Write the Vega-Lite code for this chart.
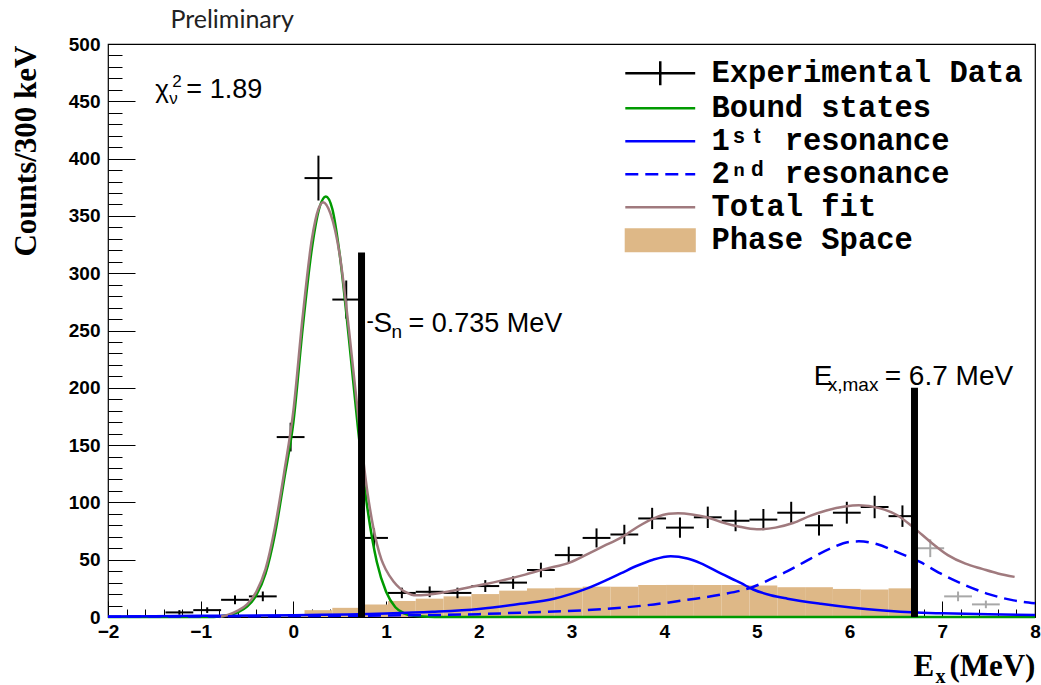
{
  "$schema": "https://vega.github.io/schema/vega-lite/v6.json",
  "width": 927,
  "height": 573,
  "autosize": {"type": "none"},
  "padding": {"left": 108, "top": 44, "right": 6, "bottom": 68},
  "background": "white",
  "config": {"view": {"stroke": "black", "strokeWidth": 1.2}, "font": "Liberation Sans"},
  "resolve": {"axis": {"x": "independent", "y": "independent"}},
  "datasets": {
    "pts": [
      {"s": "Experimental Data", "x": -1.23, "xl": -1.38, "xh": -1.08, "y": 4, "lo": 2, "hi": 6},
      {"s": "Experimental Data", "x": -0.93, "xl": -1.08, "xh": -0.78, "y": 6, "lo": 3.55, "hi": 8.45},
      {"s": "Experimental Data", "x": -0.63, "xl": -0.78, "xh": -0.48, "y": 15, "lo": 11.13, "hi": 18.87},
      {"s": "Experimental Data", "x": -0.33, "xl": -0.48, "xh": -0.18, "y": 18, "lo": 13.76, "hi": 22.24},
      {"s": "Experimental Data", "x": -0.03, "xl": -0.18, "xh": 0.12, "y": 157, "lo": 144.47, "hi": 169.53},
      {"s": "Experimental Data", "x": 0.27, "xl": 0.12, "xh": 0.42, "y": 383, "lo": 363.43, "hi": 402.57},
      {"s": "Experimental Data", "x": 0.57, "xl": 0.42, "xh": 0.72, "y": 277, "lo": 260.36, "hi": 293.64},
      {"s": "Experimental Data", "x": 0.87, "xl": 0.72, "xh": 1.02, "y": 69, "lo": 60.69, "hi": 77.31},
      {"s": "Experimental Data", "x": 1.17, "xl": 1.02, "xh": 1.32, "y": 21, "lo": 16.42, "hi": 25.58},
      {"s": "Experimental Data", "x": 1.47, "xl": 1.32, "xh": 1.62, "y": 22, "lo": 17.31, "hi": 26.69},
      {"s": "Experimental Data", "x": 1.77, "xl": 1.62, "xh": 1.92, "y": 21, "lo": 16.42, "hi": 25.58},
      {"s": "Experimental Data", "x": 2.07, "xl": 1.92, "xh": 2.22, "y": 27, "lo": 21.8, "hi": 32.2},
      {"s": "Experimental Data", "x": 2.37, "xl": 2.22, "xh": 2.52, "y": 30, "lo": 24.52, "hi": 35.48},
      {"s": "Experimental Data", "x": 2.67, "xl": 2.52, "xh": 2.82, "y": 41, "lo": 34.6, "hi": 47.4},
      {"s": "Experimental Data", "x": 2.97, "xl": 2.82, "xh": 3.12, "y": 54, "lo": 46.65, "hi": 61.35},
      {"s": "Experimental Data", "x": 3.27, "xl": 3.12, "xh": 3.42, "y": 69, "lo": 60.69, "hi": 77.31},
      {"s": "Experimental Data", "x": 3.57, "xl": 3.42, "xh": 3.72, "y": 72, "lo": 63.51, "hi": 80.49},
      {"s": "Experimental Data", "x": 3.87, "xl": 3.72, "xh": 4.02, "y": 86, "lo": 76.73, "hi": 95.27},
      {"s": "Experimental Data", "x": 4.17, "xl": 4.02, "xh": 4.32, "y": 78, "lo": 69.17, "hi": 86.83},
      {"s": "Experimental Data", "x": 4.47, "xl": 4.32, "xh": 4.62, "y": 87, "lo": 77.67, "hi": 96.33},
      {"s": "Experimental Data", "x": 4.77, "xl": 4.62, "xh": 4.92, "y": 84, "lo": 74.83, "hi": 93.17},
      {"s": "Experimental Data", "x": 5.07, "xl": 4.92, "xh": 5.22, "y": 85, "lo": 75.78, "hi": 94.22},
      {"s": "Experimental Data", "x": 5.37, "xl": 5.22, "xh": 5.52, "y": 91, "lo": 81.46, "hi": 100.54},
      {"s": "Experimental Data", "x": 5.67, "xl": 5.52, "xh": 5.82, "y": 80, "lo": 71.06, "hi": 88.94},
      {"s": "Experimental Data", "x": 5.97, "xl": 5.82, "xh": 6.12, "y": 91, "lo": 81.46, "hi": 100.54},
      {"s": "Experimental Data", "x": 6.27, "xl": 6.12, "xh": 6.42, "y": 96, "lo": 86.2, "hi": 105.8},
      {"s": "Experimental Data", "x": 6.57, "xl": 6.42, "xh": 6.72, "y": 88, "lo": 78.62, "hi": 97.38}
    ],
    "grey": [
      {"x": 6.87, "xl": 6.72, "xh": 7.02, "y": 60, "lo": 52.25, "hi": 67.75},
      {"x": 7.17, "xl": 7.02, "xh": 7.32, "y": 18, "lo": 13.76, "hi": 22.24},
      {"x": 7.47, "xl": 7.32, "xh": 7.62, "y": 11, "lo": 7.68, "hi": 14.32}
    ],
    "phase": [
      {"s": "Phase Space", "xl": 0.12, "xh": 0.42, "ps": 6},
      {"s": "Phase Space", "xl": 0.42, "xh": 0.72, "ps": 8},
      {"s": "Phase Space", "xl": 0.72, "xh": 1.02, "ps": 11},
      {"s": "Phase Space", "xl": 1.02, "xh": 1.32, "ps": 14},
      {"s": "Phase Space", "xl": 1.32, "xh": 1.62, "ps": 16},
      {"s": "Phase Space", "xl": 1.62, "xh": 1.92, "ps": 18},
      {"s": "Phase Space", "xl": 1.92, "xh": 2.22, "ps": 20},
      {"s": "Phase Space", "xl": 2.22, "xh": 2.52, "ps": 23},
      {"s": "Phase Space", "xl": 2.52, "xh": 2.82, "ps": 25},
      {"s": "Phase Space", "xl": 2.82, "xh": 3.12, "ps": 25.5},
      {"s": "Phase Space", "xl": 3.12, "xh": 3.42, "ps": 26.5},
      {"s": "Phase Space", "xl": 3.42, "xh": 3.72, "ps": 26.5},
      {"s": "Phase Space", "xl": 3.72, "xh": 4.02, "ps": 28},
      {"s": "Phase Space", "xl": 4.02, "xh": 4.32, "ps": 28},
      {"s": "Phase Space", "xl": 4.32, "xh": 4.62, "ps": 28},
      {"s": "Phase Space", "xl": 4.62, "xh": 4.92, "ps": 28},
      {"s": "Phase Space", "xl": 4.92, "xh": 5.22, "ps": 27.5},
      {"s": "Phase Space", "xl": 5.22, "xh": 5.52, "ps": 26},
      {"s": "Phase Space", "xl": 5.52, "xh": 5.82, "ps": 26},
      {"s": "Phase Space", "xl": 5.82, "xh": 6.12, "ps": 24.5},
      {"s": "Phase Space", "xl": 6.12, "xh": 6.42, "ps": 24},
      {"s": "Phase Space", "xl": 6.42, "xh": 6.72, "ps": 25}
    ],
    "curves": [
      {"s": "Bound states", "x": -2, "y": 0},
      {"s": "Bound states", "x": -0.9, "y": 0},
      {"s": "Bound states", "x": -0.8, "y": 0.5},
      {"s": "Bound states", "x": -0.7, "y": 1.5},
      {"s": "Bound states", "x": -0.6, "y": 4},
      {"s": "Bound states", "x": -0.5, "y": 9},
      {"s": "Bound states", "x": -0.4, "y": 19},
      {"s": "Bound states", "x": -0.3, "y": 38},
      {"s": "Bound states", "x": -0.2, "y": 72},
      {"s": "Bound states", "x": -0.1, "y": 120},
      {"s": "Bound states", "x": 0, "y": 170},
      {"s": "Bound states", "x": 0.1, "y": 252},
      {"s": "Bound states", "x": 0.2, "y": 322},
      {"s": "Bound states", "x": 0.28, "y": 357},
      {"s": "Bound states", "x": 0.35, "y": 367},
      {"s": "Bound states", "x": 0.42, "y": 356},
      {"s": "Bound states", "x": 0.5, "y": 316},
      {"s": "Bound states", "x": 0.6, "y": 242},
      {"s": "Bound states", "x": 0.7, "y": 162},
      {"s": "Bound states", "x": 0.8, "y": 94},
      {"s": "Bound states", "x": 0.9, "y": 48},
      {"s": "Bound states", "x": 1.0, "y": 22},
      {"s": "Bound states", "x": 1.1, "y": 8.5},
      {"s": "Bound states", "x": 1.2, "y": 3},
      {"s": "Bound states", "x": 1.3, "y": 1},
      {"s": "Bound states", "x": 1.45, "y": 0.2},
      {"s": "Bound states", "x": 1.6, "y": 0},
      {"s": "Bound states", "x": 8, "y": 0},
      {"s": "1ˢᵗ resonance", "x": -2, "y": 0.5},
      {"s": "1ˢᵗ resonance", "x": -1, "y": 1},
      {"s": "1ˢᵗ resonance", "x": 0, "y": 1.5},
      {"s": "1ˢᵗ resonance", "x": 1, "y": 3},
      {"s": "1ˢᵗ resonance", "x": 1.5, "y": 4.5},
      {"s": "1ˢᵗ resonance", "x": 2, "y": 7},
      {"s": "1ˢᵗ resonance", "x": 2.45, "y": 11.5},
      {"s": "1ˢᵗ resonance", "x": 2.81, "y": 16},
      {"s": "1ˢᵗ resonance", "x": 3.17, "y": 25},
      {"s": "1ˢᵗ resonance", "x": 3.53, "y": 38},
      {"s": "1ˢᵗ resonance", "x": 3.7, "y": 44.5},
      {"s": "1ˢᵗ resonance", "x": 3.88, "y": 50},
      {"s": "1ˢᵗ resonance", "x": 4.07, "y": 53},
      {"s": "1ˢᵗ resonance", "x": 4.25, "y": 51},
      {"s": "1ˢᵗ resonance", "x": 4.39, "y": 47},
      {"s": "1ˢᵗ resonance", "x": 4.61, "y": 38},
      {"s": "1ˢᵗ resonance", "x": 4.83, "y": 29.5},
      {"s": "1ˢᵗ resonance", "x": 4.96, "y": 24},
      {"s": "1ˢᵗ resonance", "x": 5.15, "y": 19},
      {"s": "1ˢᵗ resonance", "x": 5.33, "y": 16},
      {"s": "1ˢᵗ resonance", "x": 5.69, "y": 11.5},
      {"s": "1ˢᵗ resonance", "x": 6.04, "y": 8},
      {"s": "1ˢᵗ resonance", "x": 6.4, "y": 5.5},
      {"s": "1ˢᵗ resonance", "x": 6.67, "y": 4.1},
      {"s": "1ˢᵗ resonance", "x": 7, "y": 3.2},
      {"s": "1ˢᵗ resonance", "x": 7.5, "y": 2.3},
      {"s": "1ˢᵗ resonance", "x": 8, "y": 1.8},
      {"s": "Total fit", "x": -0.8, "y": 0},
      {"s": "Total fit", "x": -0.7, "y": 2},
      {"s": "Total fit", "x": -0.6, "y": 5.5},
      {"s": "Total fit", "x": -0.5, "y": 11},
      {"s": "Total fit", "x": -0.4, "y": 22},
      {"s": "Total fit", "x": -0.3, "y": 42},
      {"s": "Total fit", "x": -0.2, "y": 78},
      {"s": "Total fit", "x": -0.1, "y": 126},
      {"s": "Total fit", "x": 0, "y": 180},
      {"s": "Total fit", "x": 0.1, "y": 262},
      {"s": "Total fit", "x": 0.2, "y": 330},
      {"s": "Total fit", "x": 0.27, "y": 356},
      {"s": "Total fit", "x": 0.32, "y": 362},
      {"s": "Total fit", "x": 0.4, "y": 352},
      {"s": "Total fit", "x": 0.5, "y": 316},
      {"s": "Total fit", "x": 0.6, "y": 250},
      {"s": "Total fit", "x": 0.7, "y": 175},
      {"s": "Total fit", "x": 0.8, "y": 108},
      {"s": "Total fit", "x": 0.9, "y": 64},
      {"s": "Total fit", "x": 0.95, "y": 50},
      {"s": "Total fit", "x": 1.0, "y": 41},
      {"s": "Total fit", "x": 1.08, "y": 31},
      {"s": "Total fit", "x": 1.15, "y": 25},
      {"s": "Total fit", "x": 1.23, "y": 21},
      {"s": "Total fit", "x": 1.3, "y": 19},
      {"s": "Total fit", "x": 1.45, "y": 19.5},
      {"s": "Total fit", "x": 1.66, "y": 22},
      {"s": "Total fit", "x": 1.9, "y": 26},
      {"s": "Total fit", "x": 2.09, "y": 29},
      {"s": "Total fit", "x": 2.23, "y": 31.5},
      {"s": "Total fit", "x": 2.5, "y": 37},
      {"s": "Total fit", "x": 2.72, "y": 42},
      {"s": "Total fit", "x": 2.98, "y": 47.5},
      {"s": "Total fit", "x": 3.2, "y": 56},
      {"s": "Total fit", "x": 3.35, "y": 62},
      {"s": "Total fit", "x": 3.53, "y": 69},
      {"s": "Total fit", "x": 3.72, "y": 79},
      {"s": "Total fit", "x": 3.9, "y": 86.5},
      {"s": "Total fit", "x": 4.05, "y": 90},
      {"s": "Total fit", "x": 4.15, "y": 90.5},
      {"s": "Total fit", "x": 4.3, "y": 89.5},
      {"s": "Total fit", "x": 4.46, "y": 87},
      {"s": "Total fit", "x": 4.65, "y": 82},
      {"s": "Total fit", "x": 4.8, "y": 79},
      {"s": "Total fit", "x": 5.0, "y": 76.5},
      {"s": "Total fit", "x": 5.2, "y": 78},
      {"s": "Total fit", "x": 5.39, "y": 82},
      {"s": "Total fit", "x": 5.58, "y": 88.5},
      {"s": "Total fit", "x": 5.75, "y": 93},
      {"s": "Total fit", "x": 5.95, "y": 96.5},
      {"s": "Total fit", "x": 6.1, "y": 97.5},
      {"s": "Total fit", "x": 6.32, "y": 95},
      {"s": "Total fit", "x": 6.51, "y": 89},
      {"s": "Total fit", "x": 6.69, "y": 78},
      {"s": "Total fit", "x": 6.88, "y": 65},
      {"s": "Total fit", "x": 7.06, "y": 54},
      {"s": "Total fit", "x": 7.25, "y": 46.5},
      {"s": "Total fit", "x": 7.43, "y": 42},
      {"s": "Total fit", "x": 7.6, "y": 38},
      {"s": "Total fit", "x": 7.78, "y": 35}
    ],
    "res2": [
      {"s": "2ⁿᵈ resonance", "x": -2, "y": 0.3},
      {"s": "2ⁿᵈ resonance", "x": 0, "y": 0.8},
      {"s": "2ⁿᵈ resonance", "x": 1, "y": 1.3},
      {"s": "2ⁿᵈ resonance", "x": 2, "y": 2.5},
      {"s": "2ⁿᵈ resonance", "x": 2.45, "y": 3.8},
      {"s": "2ⁿᵈ resonance", "x": 3.17, "y": 6},
      {"s": "2ⁿᵈ resonance", "x": 3.89, "y": 11},
      {"s": "2ⁿᵈ resonance", "x": 4.25, "y": 15},
      {"s": "2ⁿᵈ resonance", "x": 4.61, "y": 19.5},
      {"s": "2ⁿᵈ resonance", "x": 4.95, "y": 26},
      {"s": "2ⁿᵈ resonance", "x": 5.2, "y": 35},
      {"s": "2ⁿᵈ resonance", "x": 5.33, "y": 40},
      {"s": "2ⁿᵈ resonance", "x": 5.58, "y": 51},
      {"s": "2ⁿᵈ resonance", "x": 5.8, "y": 60},
      {"s": "2ⁿᵈ resonance", "x": 6.0, "y": 65.5},
      {"s": "2ⁿᵈ resonance", "x": 6.1, "y": 66},
      {"s": "2ⁿᵈ resonance", "x": 6.3, "y": 63.5},
      {"s": "2ⁿᵈ resonance", "x": 6.5, "y": 57},
      {"s": "2ⁿᵈ resonance", "x": 6.76, "y": 48},
      {"s": "2ⁿᵈ resonance", "x": 6.98, "y": 38},
      {"s": "2ⁿᵈ resonance", "x": 7.27, "y": 27},
      {"s": "2ⁿᵈ resonance", "x": 7.5, "y": 20},
      {"s": "2ⁿᵈ resonance", "x": 7.77, "y": 14.5},
      {"s": "2ⁿᵈ resonance", "x": 8, "y": 12}
    ],
    "marks": [
      {"x": 0.735, "top": 318},
      {"x": 6.7, "top": 200}
    ]
  },
  "layer": [
    {
      "data": {"name": "phase"},
      "mark": {"type": "rect", "opacity": 1},
      "encoding": {
        "x": {
          "field": "xl", "type": "quantitative",
          "scale": {"domain": [-2, 8], "nice": false, "zero": false},
          "axis": {
            "orient": "bottom",
            "values": [-2, -1, 0, 1, 2, 3, 4, 5, 6, 7, 8],
            "labelExpr": "datum.value < 0 ? '−' + abs(datum.value) : '' + datum.value",
            "tickSize": -16, "tickColor": "black", "tickWidth": 1,
            "domain": false, "grid": false,
            "labelFont": "Liberation Sans", "labelFontWeight": "bold", "labelFontSize": 19, "labelColor": "black",
            "labelPadding": 21, "labelOverlap": false, "labelFlush": false, "labelBound": false,
            "title": null
          }
        },
        "x2": {"field": "xh"},
        "y": {
          "field": "ps", "type": "quantitative",
          "scale": {"domain": [0, 500], "nice": false, "zero": false},
          "axis": {
            "orient": "left",
            "values": [0, 50, 100, 150, 200, 250, 300, 350, 400, 450, 500],
            "tickSize": -27, "tickColor": "black", "tickWidth": 1,
            "domain": false, "grid": false,
            "labelFont": "Liberation Sans", "labelFontWeight": "bold", "labelFontSize": 19, "labelColor": "black",
            "labelPadding": 35, "labelOverlap": false, "labelFlush": false, "labelBound": false,
            "title": "Counts/300 keV",
            "titleFont": "Liberation Serif", "titleFontWeight": "bold", "titleFontSize": 31, "titleColor": "black",
            "titleAngle": -90, "titleAlign": "right", "titleBaseline": "alphabetic",
            "titleX": -73, "titleY": 1
          }
        },
        "y2": {"datum": 0},
        "color": {
          "field": "s", "type": "nominal",
          "scale": {"domain": ["Experimental Data", "Bound states", "1ˢᵗ resonance", "2ⁿᵈ resonance", "Total fit", "Phase Space"], "range": ["#000000", "#009a00", "#0000ff", "#0000ff", "#a07a7e", "#deb887"]},
          "legend": {
            "orient": "none", "legendX": 537, "legendY": 14, "title": null, "direction": "vertical",
            "labelFont": "Liberation Mono", "labelFontWeight": "bold", "labelFontSize": 30.5, "labelColor": "black",
            "labelOffset": 36, "symbolSize": 900, "rowPadding": 2, "padding": 0, "labelLimit": 1000,
            "symbolType": {"expr": "datum.value === 'Experimental Data' ? 'M-2.33,0H2.33M0,-0.8V0.8' : (datum.value === 'Phase Space' ? 'M-2.37,-0.8H2.37V0.8H-2.37Z' : 'M-2.33,0H2.33')"},
            "symbolStrokeColor": {"expr": "scale('color', datum.value)"},
            "symbolStrokeWidth": {"expr": "datum.value === 'Phase Space' ? 0 : 2.5"},
            "symbolDash": {"expr": "datum.value === '2ⁿᵈ resonance' ? [13, 7] : [1, 0]"},
            "symbolOpacity": 1
          }
        }
      }
    },
    {
      "data": {"name": "pts"},
      "mark": {"type": "rule", "strokeWidth": 2},
      "encoding": {
        "x": {"field": "x", "type": "quantitative", "scale": {"domain": [-2, 8], "nice": false, "zero": false},
          "axis": {"orient": "bottom", "values": [-1.8, -1.6, -1.4, -1.2, -0.8, -0.6, -0.4, -0.2, 0.2, 0.4, 0.6, 0.8, 1.2, 1.4, 1.6, 1.8, 2.2, 2.4, 2.6, 2.8, 3.2, 3.4, 3.6, 3.8, 4.2, 4.4, 4.6, 4.8, 5.2, 5.4, 5.6, 5.8, 6.2, 6.4, 6.6, 6.8, 7.2, 7.4, 7.6, 7.8],
            "labels": false, "tickSize": -8, "tickColor": "black", "tickWidth": 1, "domain": false, "grid": false, "title": null}},
        "y": {"field": "lo", "type": "quantitative", "scale": {"domain": [0, 500], "nice": false, "zero": false},
          "axis": {"orient": "left", "values": [10, 20, 30, 40, 60, 70, 80, 90, 110, 120, 130, 140, 160, 170, 180, 190, 210, 220, 230, 240, 260, 270, 280, 290, 310, 320, 330, 340, 360, 370, 380, 390, 410, 420, 430, 440, 460, 470, 480, 490],
            "labels": false, "tickSize": -14, "tickColor": "black", "tickWidth": 1, "domain": false, "grid": false, "title": null}},
        "y2": {"field": "hi"},
        "color": {"field": "s", "type": "nominal", "scale": {"domain": ["Experimental Data", "Bound states", "1ˢᵗ resonance", "2ⁿᵈ resonance", "Total fit", "Phase Space"], "range": ["#000000", "#009a00", "#0000ff", "#0000ff", "#a07a7e", "#deb887"]}, "legend": null}
      }
    },
    {
      "data": {"name": "pts"},
      "mark": {"type": "rule", "strokeWidth": 2},
      "encoding": {
        "x": {"field": "xl", "type": "quantitative", "scale": {"domain": [-2, 8], "nice": false, "zero": false}, "axis": null},
        "x2": {"field": "xh"},
        "y": {"field": "y", "type": "quantitative", "scale": {"domain": [0, 500], "nice": false, "zero": false}, "axis": null},
        "color": {"field": "s", "type": "nominal", "scale": {"domain": ["Experimental Data", "Bound states", "1ˢᵗ resonance", "2ⁿᵈ resonance", "Total fit", "Phase Space"], "range": ["#000000", "#009a00", "#0000ff", "#0000ff", "#a07a7e", "#deb887"]}, "legend": null}
      }
    },
    {
      "data": {"name": "grey"},
      "mark": {"type": "rule", "strokeWidth": 2, "color": "#a8a8a8"},
      "encoding": {
        "x": {"field": "x", "type": "quantitative", "scale": {"domain": [-2, 8], "nice": false, "zero": false}, "axis": null},
        "y": {"field": "lo", "type": "quantitative", "scale": {"domain": [0, 500], "nice": false, "zero": false}, "axis": null},
        "y2": {"field": "hi"}
      }
    },
    {
      "data": {"name": "grey"},
      "mark": {"type": "rule", "strokeWidth": 2, "color": "#a8a8a8"},
      "encoding": {
        "x": {"field": "xl", "type": "quantitative", "scale": {"domain": [-2, 8], "nice": false, "zero": false}, "axis": null},
        "x2": {"field": "xh"},
        "y": {"field": "y", "type": "quantitative", "scale": {"domain": [0, 500], "nice": false, "zero": false}, "axis": null}
      }
    },
    {
      "data": {"name": "curves"},
      "mark": {"type": "line", "strokeWidth": 2.5, "interpolate": "monotone"},
      "encoding": {
        "x": {"field": "x", "type": "quantitative", "scale": {"domain": [-2, 8], "nice": false, "zero": false}, "axis": null},
        "y": {"field": "y", "type": "quantitative", "scale": {"domain": [0, 500], "nice": false, "zero": false}, "axis": null},
        "color": {"field": "s", "type": "nominal", "scale": {"domain": ["Experimental Data", "Bound states", "1ˢᵗ resonance", "2ⁿᵈ resonance", "Total fit", "Phase Space"], "range": ["#000000", "#009a00", "#0000ff", "#0000ff", "#a07a7e", "#deb887"]}, "legend": null}
      }
    },
    {
      "data": {"name": "res2"},
      "mark": {"type": "line", "strokeWidth": 2.5, "interpolate": "monotone", "strokeDash": [13, 7]},
      "encoding": {
        "x": {"field": "x", "type": "quantitative", "scale": {"domain": [-2, 8], "nice": false, "zero": false}, "axis": null},
        "y": {"field": "y", "type": "quantitative", "scale": {"domain": [0, 500], "nice": false, "zero": false}, "axis": null},
        "color": {"field": "s", "type": "nominal", "scale": {"domain": ["Experimental Data", "Bound states", "1ˢᵗ resonance", "2ⁿᵈ resonance", "Total fit", "Phase Space"], "range": ["#000000", "#009a00", "#0000ff", "#0000ff", "#a07a7e", "#deb887"]}, "legend": null}
      }
    },
    {
      "data": {"name": "marks"},
      "mark": {"type": "rule", "strokeWidth": 7, "color": "black"},
      "encoding": {
        "x": {"field": "x", "type": "quantitative", "scale": {"domain": [-2, 8], "nice": false, "zero": false}, "axis": null},
        "y": {"field": "top", "type": "quantitative", "scale": {"domain": [0, 500], "nice": false, "zero": false}, "axis": null},
        "y2": {"datum": 0}
      }
    },
    {
      "data": {"values": [{}]},
      "mark": {"type": "text", "text": "Preliminary", "font": "Lato", "fontSize": 25, "align": "left", "baseline": "alphabetic", "color": "#222222"},
      "encoding": {"x": {"datum": -1.327, "type": "quantitative", "axis": null}, "y": {"datum": 513.7, "type": "quantitative", "axis": null}}
    },
    {
      "data": {"values": [{}]},
      "mark": {"type": "text", "text": "χ", "font": "Liberation Sans", "fontSize": 26, "align": "left", "baseline": "alphabetic", "color": "black"},
      "encoding": {"x": {"datum": -1.489, "type": "quantitative", "axis": null}, "y": {"datum": 452.6, "type": "quantitative", "axis": null}}
    },
    {
      "data": {"values": [{}]},
      "mark": {"type": "text", "text": "2", "font": "Liberation Sans", "fontSize": 17, "align": "left", "baseline": "alphabetic", "color": "black", "dx": 17, "dy": -11},
      "encoding": {"x": {"datum": -1.489, "type": "quantitative", "axis": null}, "y": {"datum": 452.6, "type": "quantitative", "axis": null}}
    },
    {
      "data": {"values": [{}]},
      "mark": {"type": "text", "text": "ν", "font": "Liberation Sans", "fontSize": 17, "align": "left", "baseline": "alphabetic", "color": "black", "dx": 14, "dy": 6},
      "encoding": {"x": {"datum": -1.489, "type": "quantitative", "axis": null}, "y": {"datum": 452.6, "type": "quantitative", "axis": null}}
    },
    {
      "data": {"values": [{}]},
      "mark": {"type": "text", "text": "= 1.89", "font": "Liberation Sans", "fontSize": 27, "align": "left", "baseline": "alphabetic", "color": "black", "dx": 31},
      "encoding": {"x": {"datum": -1.489, "type": "quantitative", "axis": null}, "y": {"datum": 452.6, "type": "quantitative", "axis": null}}
    },
    {
      "data": {"values": [{}]},
      "mark": {"type": "text", "text": "S", "font": "Liberation Sans", "fontSize": 28, "align": "left", "baseline": "alphabetic", "color": "black"},
      "encoding": {"x": {"datum": 0.863, "type": "quantitative", "axis": null}, "y": {"datum": 249, "type": "quantitative", "axis": null}}
    },
    {
      "data": {"values": [{}]},
      "mark": {"type": "text", "text": "n", "font": "Liberation Sans", "fontSize": 19, "align": "left", "baseline": "alphabetic", "color": "black", "dx": 18, "dy": 6},
      "encoding": {"x": {"datum": 0.863, "type": "quantitative", "axis": null}, "y": {"datum": 249, "type": "quantitative", "axis": null}}
    },
    {
      "data": {"values": [{}]},
      "mark": {"type": "text", "text": "= 0.735 MeV", "font": "Liberation Sans", "fontSize": 27, "align": "left", "baseline": "alphabetic", "color": "black", "dx": 35},
      "encoding": {"x": {"datum": 0.863, "type": "quantitative", "axis": null}, "y": {"datum": 249, "type": "quantitative", "axis": null}}
    },
    {
      "data": {"values": [{}]},
      "mark": {"type": "text", "text": "-", "font": "Liberation Sans", "fontSize": 22, "align": "left", "baseline": "alphabetic", "color": "black", "dx": -7, "dy": -4},
      "encoding": {"x": {"datum": 0.863, "type": "quantitative", "axis": null}, "y": {"datum": 249, "type": "quantitative", "axis": null}}
    },
    {
      "data": {"values": [{}]},
      "mark": {"type": "text", "text": "E", "font": "Liberation Sans", "fontSize": 28, "align": "left", "baseline": "alphabetic", "color": "black"},
      "encoding": {"x": {"datum": 5.613, "type": "quantitative", "axis": null}, "y": {"datum": 202.4, "type": "quantitative", "axis": null}}
    },
    {
      "data": {"values": [{}]},
      "mark": {"type": "text", "text": "x,max", "font": "Liberation Sans", "fontSize": 19, "align": "left", "baseline": "alphabetic", "color": "black", "dx": 14, "dy": 6},
      "encoding": {"x": {"datum": 5.613, "type": "quantitative", "axis": null}, "y": {"datum": 202.4, "type": "quantitative", "axis": null}}
    },
    {
      "data": {"values": [{}]},
      "mark": {"type": "text", "text": "= 6.7 MeV", "font": "Liberation Sans", "fontSize": 28, "align": "left", "baseline": "alphabetic", "color": "black", "dx": 71},
      "encoding": {"x": {"datum": 5.613, "type": "quantitative", "axis": null}, "y": {"datum": 202.4, "type": "quantitative", "axis": null}}
    },
    {
      "data": {"values": [{}]},
      "mark": {"type": "text", "text": "E", "font": "Liberation Serif", "fontWeight": "bold", "fontSize": 31, "align": "left", "baseline": "alphabetic", "color": "black"},
      "encoding": {"x": {"datum": 6.688, "type": "quantitative", "axis": null}, "y": {"datum": -51.1, "type": "quantitative", "axis": null}}
    },
    {
      "data": {"values": [{}]},
      "mark": {"type": "text", "text": "x", "font": "Liberation Serif", "fontWeight": "bold", "fontSize": 20, "align": "left", "baseline": "alphabetic", "color": "black", "dx": 22, "dy": 7},
      "encoding": {"x": {"datum": 6.688, "type": "quantitative", "axis": null}, "y": {"datum": -51.1, "type": "quantitative", "axis": null}}
    },
    {
      "data": {"values": [{}]},
      "mark": {"type": "text", "text": "(MeV)", "font": "Liberation Serif", "fontWeight": "bold", "fontSize": 31, "align": "left", "baseline": "alphabetic", "color": "black", "dx": 36},
      "encoding": {"x": {"datum": 6.688, "type": "quantitative", "axis": null}, "y": {"datum": -51.1, "type": "quantitative", "axis": null}}
    }
  ]
}
